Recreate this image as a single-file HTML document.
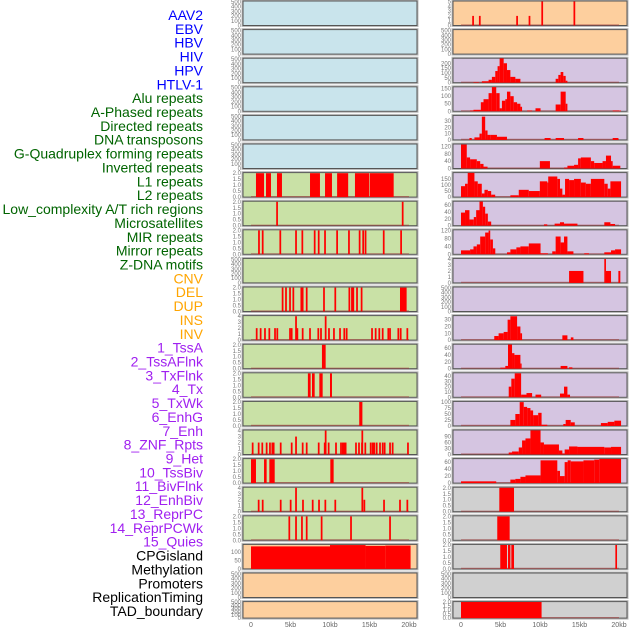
<!DOCTYPE html>
<html><head><meta charset="utf-8"><style>
html,body{margin:0;padding:0;background:#fff;}
svg{display:block;font-family:"Liberation Sans",sans-serif;}
</style></head><body>
<svg id="chart" width="630" height="630" viewBox="0 0 630 630"></svg>
<script>
const labels=["AAV2","EBV","HBV","HIV","HPV","HTLV-1","Alu repeats","A-Phased repeats","Directed repeats","DNA transposons","G-Quadruplex forming repeats","Inverted repeats","L1 repeats","L2 repeats","Low_complexity A/T rich regions","Microsatellites","MIR repeats","Mirror repeats","Z-DNA motifs","CNV","DEL","DUP","INS","INV","1_TssA","2_TssAFlnk","3_TxFlnk","4_Tx","5_TxWk","6_EnhG","7_Enh","8_ZNF_Rpts","9_Het","10_TssBiv","11_BivFlnk","12_EnhBiv","13_ReprPC","14_ReprPCWk","15_Quies","CPGisland","Methylation","Promoters","ReplicationTiming","TAD_boundary"];
const labelColors=["#0000ff","#006400","#ffa500","#a020f0","#000000"];
const labelGroups=[6,13,5,15,5];
const xTicks=[0,5000,10000,15000,20000];
const xTickLabels=["0","5kb","10kb","15kb","20kb"];

// left spike positions (kb)
const L7spk=[3.3,19.2];
const L8spk=[1.01,1.48,3.71,5.7,6.5,8.06,8.57,9.37,10.9,12.4,13.75,14.2,14.5,16.8,19.0];
const L10spk=[4.0,4.43,4.94,5.36,6.37,6.54,7.05,9.24,10.67,12.45,12.78,12.95,13.42,14.0];
const L11spk=[0.72,1.22,1.77,2.32,3.04,3.33,4.94,5.15,5.7,5.87,6.54,7.47,8.52,8.86,9.45,9.87,10.5,11.27,11.81,12.11,15.32,15.78,16.24,16.67,17.38,17.6,18.65,18.95,19.79];
const L11val=[2,2,2,2,2,2,2,2,4,2,2,2,2,2,4,2,2,2,2,2,2,2,2,2,2,2,2,2,2];
const L15spk=[0.21,0.97,1.43,1.98,2.4,2.7,2.87,3.76,5.15,5.7,6.54,7.05,8.57,9.33,9.45,9.83,10.76,11.39,11.6,11.81,11.98,13.29,13.67,14.05,14.09,14.47,15.15,15.4,15.61,15.91,16.33,16.67,16.92,17.6,17.93,19.87];
const L15val=[2,2,2,2,2,2,2,2,2,3,2,2,2,2,4,2,2,2,2,2,2,2,2,2,4,2,2,2,2,2,2,2,2,2,2,2];
const L17spk=[0.97,1.48,3.76,5.02,5.7,6.58,7.81,8.61,9.41,10.67,14.09,14.35,16.84,18.86,19.79];
const L17val=[2,2,2,2,4,2,2,2,2,2,4,2,2,2,2];
const L18spk=[4.85,5.7,6.45,7.05,8.94,12.66,17.6];
const R0spk=[1.53,2.38,7.1,8.67,10.28,14.35];
const R0val=[2,2,2,2,5,5];

// segments [startKb,endKb,value]
const L6seg=[[0.63,1.65,2],[1.9,2.53,2],[3.29,3.92,2],[7.47,8.73,2],[9.37,10.25,2],[10.9,12.3,2],[13.16,14.98,2],[15.06,18.06,2]];
const L10seg=[[18.86,19.7,2]];
const L12seg=[[8.98,9.45,2]];
const L13seg=[[7.2,7.55,2],[7.72,8.06,2],[8.65,9.07,2],[10.0,10.25,2]];
const L14seg=[[13.7,14.1,2]];
const L16seg=[[0,0.63,2],[1.65,1.98,2],[2.32,3.0,2],[10.04,10.46,2]];
const L19seg=[[0,10,135],[10,14.5,143],[14.5,17,138],[17,20.2,140]];
const R2seg=[[1.58,2.26,5],[2.64,3.49,15],[3.49,3.91,30],[3.91,4.34,60],[4.34,4.63,120],[4.63,4.89,170],[4.89,5.4,250],[5.4,5.82,200],[5.82,6.25,130],[6.25,6.88,60],[6.88,7.52,40],[11.98,12.32,40],[12.32,12.61,80],[12.61,12.95,110],[12.95,13.25,70],[13.25,13.47,20]];
const R3seg=[[1.15,1.58,5],[1.58,2.51,10],[2.51,2.85,60],[2.85,3.49,80],[3.49,3.91,120],[3.91,4.46,160],[4.46,4.89,120],[4.89,5.18,20],[5.18,5.61,70],[5.61,5.82,80],[5.82,6.25,130],[6.25,6.67,100],[6.67,7.1,60],[7.1,7.52,50],[7.52,7.73,30],[8.37,9.0,5],[9.43,10.07,20],[11.98,12.61,45],[12.61,13.25,130],[13.25,13.47,50],[19.2,20.26,5]];
const R4seg=[[1.07,1.36,3],[1.7,2.34,4],[2.34,2.64,10],[2.64,3.06,37],[3.06,3.36,15],[3.36,3.7,8],[3.7,4.55,8],[4.55,5.82,5],[10.58,11.34,3],[11.98,13.04,3],[14.82,15.5,3],[19.2,19.92,3]];
const R5seg=[[0,0.73,130],[0.73,1.15,60],[1.15,2.0,50],[2.0,2.43,40],[2.43,2.85,25],[2.85,3.36,10],[9.98,11.26,40],[13.04,13.47,5],[13.47,14.31,15],[14.31,14.82,20],[14.82,15.17,55],[15.17,16.44,60],[16.44,16.86,40],[16.86,17.92,30],[17.92,18.35,40],[18.35,18.99,70],[18.99,19.2,40],[19.2,20.17,15]];
const R6seg=[[0,0.51,90],[0.51,0.85,110],[0.85,1.7,200],[1.7,2.12,130],[2.12,2.63,110],[2.63,2.97,30],[2.97,3.4,60],[3.4,3.82,50],[3.82,4.33,20],[6.25,7.31,15],[7.31,8.58,60],[8.58,9.98,50],[9.98,10.92,130],[10.92,11.04,120],[11.04,12.19,170],[12.19,12.53,150],[12.53,12.83,70],[12.83,13.17,20],[13.17,13.68,150],[13.68,14.31,140],[14.31,15.17,150],[15.17,15.8,120],[15.8,16.44,110],[16.44,18.14,150],[18.14,18.57,110],[18.57,18.91,70],[18.91,20.26,130]];
const R7seg=[[0,0.51,38],[0.51,1.07,45],[1.07,1.62,18],[1.62,1.92,25],[1.92,2.34,45],[2.34,2.77,70],[2.77,3.06,55],[3.06,3.4,35],[3.4,3.82,12],[10.5,10.92,4],[11.85,12.53,6],[12.53,13.04,10],[13.04,14.74,6],[18.14,18.91,10],[18.91,19.5,5]];
const R8seg=[[0,1.15,20],[1.15,1.58,25],[1.58,2.0,40],[2.0,2.43,50],[2.43,3.06,90],[3.06,3.49,110],[3.49,3.7,120],[3.7,4.04,75],[4.04,4.34,30],[5.82,6.25,10],[6.25,7.01,25],[7.01,7.52,35],[7.52,8.58,40],[8.58,10.07,55],[10.07,10.5,5],[10.5,11.0,5],[11.55,11.98,15],[11.98,12.61,90],[12.61,13.04,60],[13.04,13.47,90],[13.47,14.23,15],[15.6,16.2,5],[18.14,18.99,10],[18.99,19.5,20],[19.5,20.26,25]];
const R9seg=[[13.68,15.5,2],[18.14,18.35,4],[18.35,18.99,2],[19.92,20.17,2]];
const R11seg=[[4.21,4.76,6],[4.76,5.4,10],[5.4,5.9,12],[5.9,6.25,30],[6.25,7.1,35],[7.1,7.52,20],[7.52,7.73,10],[12.83,13.47,7],[13.9,14.23,4]];
const R12seg=[[4.98,5.61,3],[5.61,5.95,8],[5.95,6.46,70],[6.46,6.76,45],[6.76,7.52,40],[7.52,7.65,15],[12.61,13.47,8],[13.68,14.1,4]];
const R13seg=[[6.04,6.37,20],[6.37,6.8,35],[6.8,7.61,45],[7.61,8.29,5],[8.29,9.0,8],[9.43,10.15,5],[12.53,13.04,7],[13.04,13.47,20],[13.47,13.8,5]];
const R14seg=[[6.25,6.88,25],[6.88,7.43,50],[7.43,7.94,100],[7.94,8.37,80],[8.37,8.79,75],[8.79,9.13,65],[9.13,9.77,45],[9.77,10.2,55],[10.2,10.92,5],[12.95,13.25,8],[13.25,13.89,25],[13.89,14.4,15],[17.71,18.57,12],[18.57,19.41,17],[19.41,20.26,22]];
const R15seg=[[6.04,6.46,10],[6.46,7.31,15],[7.31,7.73,35],[7.73,8.16,70],[8.16,8.79,80],[8.79,10.07,120],[10.07,10.5,60],[10.5,12.4,50],[12.4,12.83,20],[12.83,13.12,5],[13.12,13.68,25],[13.68,14.74,40],[14.74,18.14,38],[18.14,18.99,35],[18.99,20.26,38]];
const R16seg=[[0,4.46,5],[6.25,6.88,10],[6.88,7.52,12],[7.52,8.16,18],[8.16,10.07,22],[10.07,12.19,65],[12.19,12.53,35],[12.53,13.12,20],[13.12,13.5,60],[13.5,13.89,65],[13.89,15.5,62],[15.5,16.86,65],[16.86,17.5,67],[17.5,20.26,69]];
const R17seg=[[4.85,6.71,2]];
const R18seg=[[4.59,6.16,2]];
const R19seg=[[4.97,5.82,2],[5.95,6.25,2],[6.37,6.71,2],[19.54,19.75,2]];
const R21seg=[[0,10.2,2]];

const emptyTicks=[0,100,200,300,400,500];
const t2=[0,0.5,1,1.5,2];
const t2lab=["0.0","0.5","1.0","1.5","2.0"];
const t4=[0,1,2,3,4];

function spikes(pos,vals,h){const w=0.22;return pos.map((p,i)=>[p-w/2,p+w/2,vals?vals[i]:h]);}

const C={blue:"#c9e4ec",green:"#c9e1a6",orange:"#fdcf9e",purple:"#d5c5e1",grey:"#d0d0d0"};
const E={ymax:520,ticks:emptyTicks,segs:null};
const left=[
 {bg:C.blue,...E},{bg:C.blue,...E},{bg:C.blue,...E},{bg:C.blue,...E},{bg:C.blue,...E},{bg:C.blue,...E},
 {bg:C.green,ymax:2.05,ticks:t2,tl:t2lab,segs:L6seg},
 {bg:C.green,ymax:2.05,ticks:t2,tl:t2lab,segs:spikes(L7spk,null,2)},
 {bg:C.green,ymax:2.05,ticks:t2,tl:t2lab,segs:spikes(L8spk,null,2)},
 {bg:C.green,...E},
 {bg:C.green,ymax:2.05,ticks:t2,tl:t2lab,segs:spikes(L10spk,null,2).concat(L10seg)},
 {bg:C.green,ymax:4.1,ticks:t4,segs:spikes(L11spk,L11val)},
 {bg:C.green,ymax:2.05,ticks:t2,tl:t2lab,segs:L12seg},
 {bg:C.green,ymax:2.05,ticks:t2,tl:t2lab,segs:L13seg},
 {bg:C.green,ymax:2.05,ticks:t2,tl:t2lab,segs:L14seg},
 {bg:C.green,ymax:4.1,ticks:t4,segs:spikes(L15spk,L15val)},
 {bg:C.green,ymax:2.05,ticks:t2,tl:t2lab,segs:L16seg},
 {bg:C.green,ymax:4.1,ticks:t4,segs:spikes(L17spk,L17val)},
 {bg:C.green,ymax:2.05,ticks:t2,tl:t2lab,segs:spikes(L18spk,null,2)},
 {bg:C.orange,ymax:147,ticks:[0,50,100],segs:L19seg},
 {bg:C.orange,...E},{bg:C.orange,...E}
];
const right=[
 {bg:C.orange,ymax:5.1,ticks:[0,1,2,3,4,5],segs:spikes(R0spk,R0val)},
 {bg:C.orange,...E},
 {bg:C.purple,ymax:252,ticks:[0,50,100,150,200],segs:R2seg},
 {bg:C.purple,ymax:162,ticks:[0,50,100,150],segs:R3seg},
 {bg:C.purple,ymax:39,ticks:[0,10,20,30],segs:R4seg},
 {bg:C.purple,ymax:133,ticks:[0,40,80,120],segs:R5seg},
 {bg:C.purple,ymax:202,ticks:[0,50,100,150],segs:R6seg},
 {bg:C.purple,ymax:71,ticks:[0,20,40,60],segs:R7seg},
 {bg:C.purple,ymax:124,ticks:[0,40,80,120],segs:R8seg},
 {bg:C.purple,ymax:4.1,ticks:t4,segs:R9seg},
 {bg:C.purple,...E},
 {bg:C.purple,ymax:36,ticks:[0,10,20,30],segs:R11seg},
 {bg:C.purple,ymax:71,ticks:[0,20,40,60],segs:R12seg},
 {bg:C.purple,ymax:46,ticks:[0,10,20,30,40],segs:R13seg},
 {bg:C.purple,ymax:103,ticks:[0,25,50,75,100],segs:R14seg},
 {bg:C.purple,ymax:122,ticks:[0,30,60,90],segs:R15seg},
 {bg:C.purple,ymax:70,ticks:[0,20,40,60],segs:R16seg},
 {bg:C.grey,ymax:2.05,ticks:t2,tl:t2lab,segs:R17seg},
 {bg:C.grey,ymax:2.05,ticks:t2,tl:t2lab,segs:R18seg},
 {bg:C.grey,ymax:2.05,ticks:t2,tl:t2lab,segs:R19seg},
 {bg:C.grey,...E},
 {bg:C.grey,ymax:2.05,ticks:t2,tl:t2lab,segs:R21seg}
];

const NS="http://www.w3.org/2000/svg";
const svg=document.getElementById("chart");
function mk(tag,attrs,parent){const e=document.createElementNS(NS,tag);for(const k in attrs)e.setAttribute(k,attrs[k]);(parent||svg).appendChild(e);return e;}

// labels
let gi=0,cnt=0;
labels.forEach((t,i)=>{
  while(cnt>=labelGroups[gi]){cnt=0;gi++;}
  cnt++;
  const y=15+i*13.86;
  const el=mk("text",{x:203,y:y+5,"text-anchor":"end","font-size":"14",fill:labelColors[gi]});
  el.textContent=t;
  
  
});

function rowTop(r){return 1+r*28.6;}
function drawCol(list,px,colName){
  list.forEach((p,r)=>{
    const top=rowTop(r), h=(r===21?16.5:24.5), w=174;
    const g=mk("g",{});
    
    
    mk("rect",{x:px-1,y:top-1,width:w+2,height:h+2,fill:"none",stroke:"#bbb","stroke-width":1},g);
    mk("rect",{x:px,y:top,width:w,height:h,fill:p.bg,stroke:"#555","stroke-width":1},g);
    const xs=kb=>px+8+kb*7.9;
    const ys=v=>top+h-v/p.ymax*h;
    // ticks
    const n=p.ticks.length;
    p.ticks.forEach((t,i)=>{
      const tx=mk("text",{x:px-2,y:ys(t)+2,"text-anchor":"end","font-size":"6",fill:"#777"},g);
      tx.textContent=p.tl?p.tl[i]:String(t);
      
      
    });
    if(p.segs){
      mk("line",{x1:xs(0),x2:xs(20),y1:top+h-0.5,y2:top+h-0.5,stroke:"rgba(160,60,60,0.6)","stroke-width":1.2},g);
      p.segs.forEach(s=>{
        const a=Math.max(0,s[0]),b=s[1];
        const bar=mk("rect",{x:xs(a),y:ys(s[2]),width:Math.max(1.2,xs(b)-xs(a)),height:top+h-ys(s[2]),fill:"#ff0000"},g);
        
        
      });
    }
  });
  xTicks.forEach((t,i)=>{
    const tx=mk("text",{x:px+8+t/1000*7.9,y:627,"text-anchor":"middle","font-size":"7",fill:"#666"});
    tx.textContent=xTickLabels[i];
    
    
  });
}
drawCol(left,243,"left");
drawCol(right,453,"right");
</script>
</body></html>
